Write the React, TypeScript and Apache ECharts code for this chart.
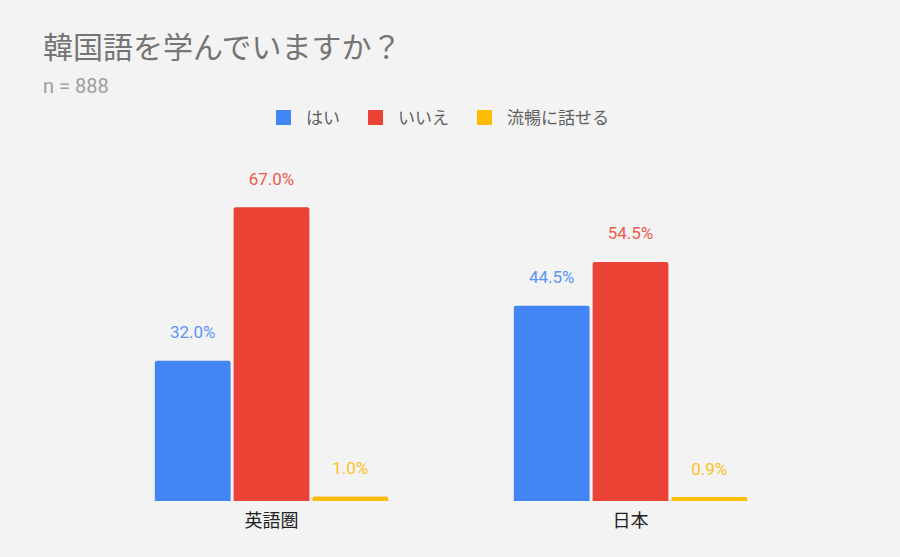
import { useEffect, useRef } from 'react';
import * as echarts from 'echarts';

const categories = ['英語圏', '日本'];
const seriesNames = ['はい', 'いいえ', '流暢に話せる'];
const yesValues = [32.0, 44.5];
const noValues = [67.0, 54.5];
const fluentValues = [1.0, 0.9];
const colors = ['#4285f4', '#ea4335', '#fbbc04'];
const labelColors = ['#5b95f5', '#ee5a4d', '#fbc225'];

const FONT = "Roboto, 'Noto Sans CJK JP', sans-serif";

export default function App() {
  const chartRef = useRef<HTMLDivElement>(null);

  useEffect(() => {
    if (!chartRef.current) return;
    document.body.style.margin = '0';
    const chart = echarts.init(chartRef.current, null, { renderer: 'svg' });

    const values = [yesValues, noValues, fluentValues];

    const option: echarts.EChartsOption = {
      animation: false,
      backgroundColor: '#f3f3f3',
      textStyle: { fontFamily: FONT },
      title: {
        text: '韓国語を学んでいますか？',
        subtext: 'n = 888',
        left: 38,
        top: 27,
        itemGap: 14,
        textStyle: { fontSize: 30, fontWeight: 'normal', color: '#757575', fontFamily: FONT },
        subtextStyle: { fontSize: 20, color: '#9e9e9e', fontFamily: FONT },
      },
      legend: {
        top: 104,
        left: 271,
        icon: 'rect',
        itemWidth: 15,
        itemHeight: 15,
        itemGap: 28,
        textStyle: { fontSize: 17, color: '#5f5f5f', fontFamily: FONT, padding: [0, 0, 0, 10] },
        data: seriesNames,
      },
      grid: { left: 92, right: 90, top: 194, bottom: 56 },
      xAxis: {
        type: 'category',
        data: categories,
        axisLine: { show: false },
        axisTick: { show: false },
        axisLabel: { fontSize: 18, color: '#222', margin: 10, fontFamily: FONT },
      },
      yAxis: {
        type: 'value',
        min: 0,
        max: 70,
        show: false,
        splitLine: { show: false },
      },
      series: seriesNames.map((name, i) => ({
        name,
        type: 'bar',
        data: values[i],
        barGap: '4%',
        barCategoryGap: '35%',
        itemStyle: { color: colors[i], borderRadius: [2, 2, 0, 0] },
        label: {
          show: true,
          position: 'top',
          distance: 20,
          fontSize: 17,
          color: labelColors[i],
          fontFamily: FONT,
          formatter: (p: any) => Number(p.value).toFixed(1) + '%',
        },
      })),
    };

    chart.setOption(option);
    return () => chart.dispose();
  }, []);

  return <div ref={chartRef} style={{ position: 'fixed', left: 0, top: 0, width: 900, height: 557 }} />;
}
